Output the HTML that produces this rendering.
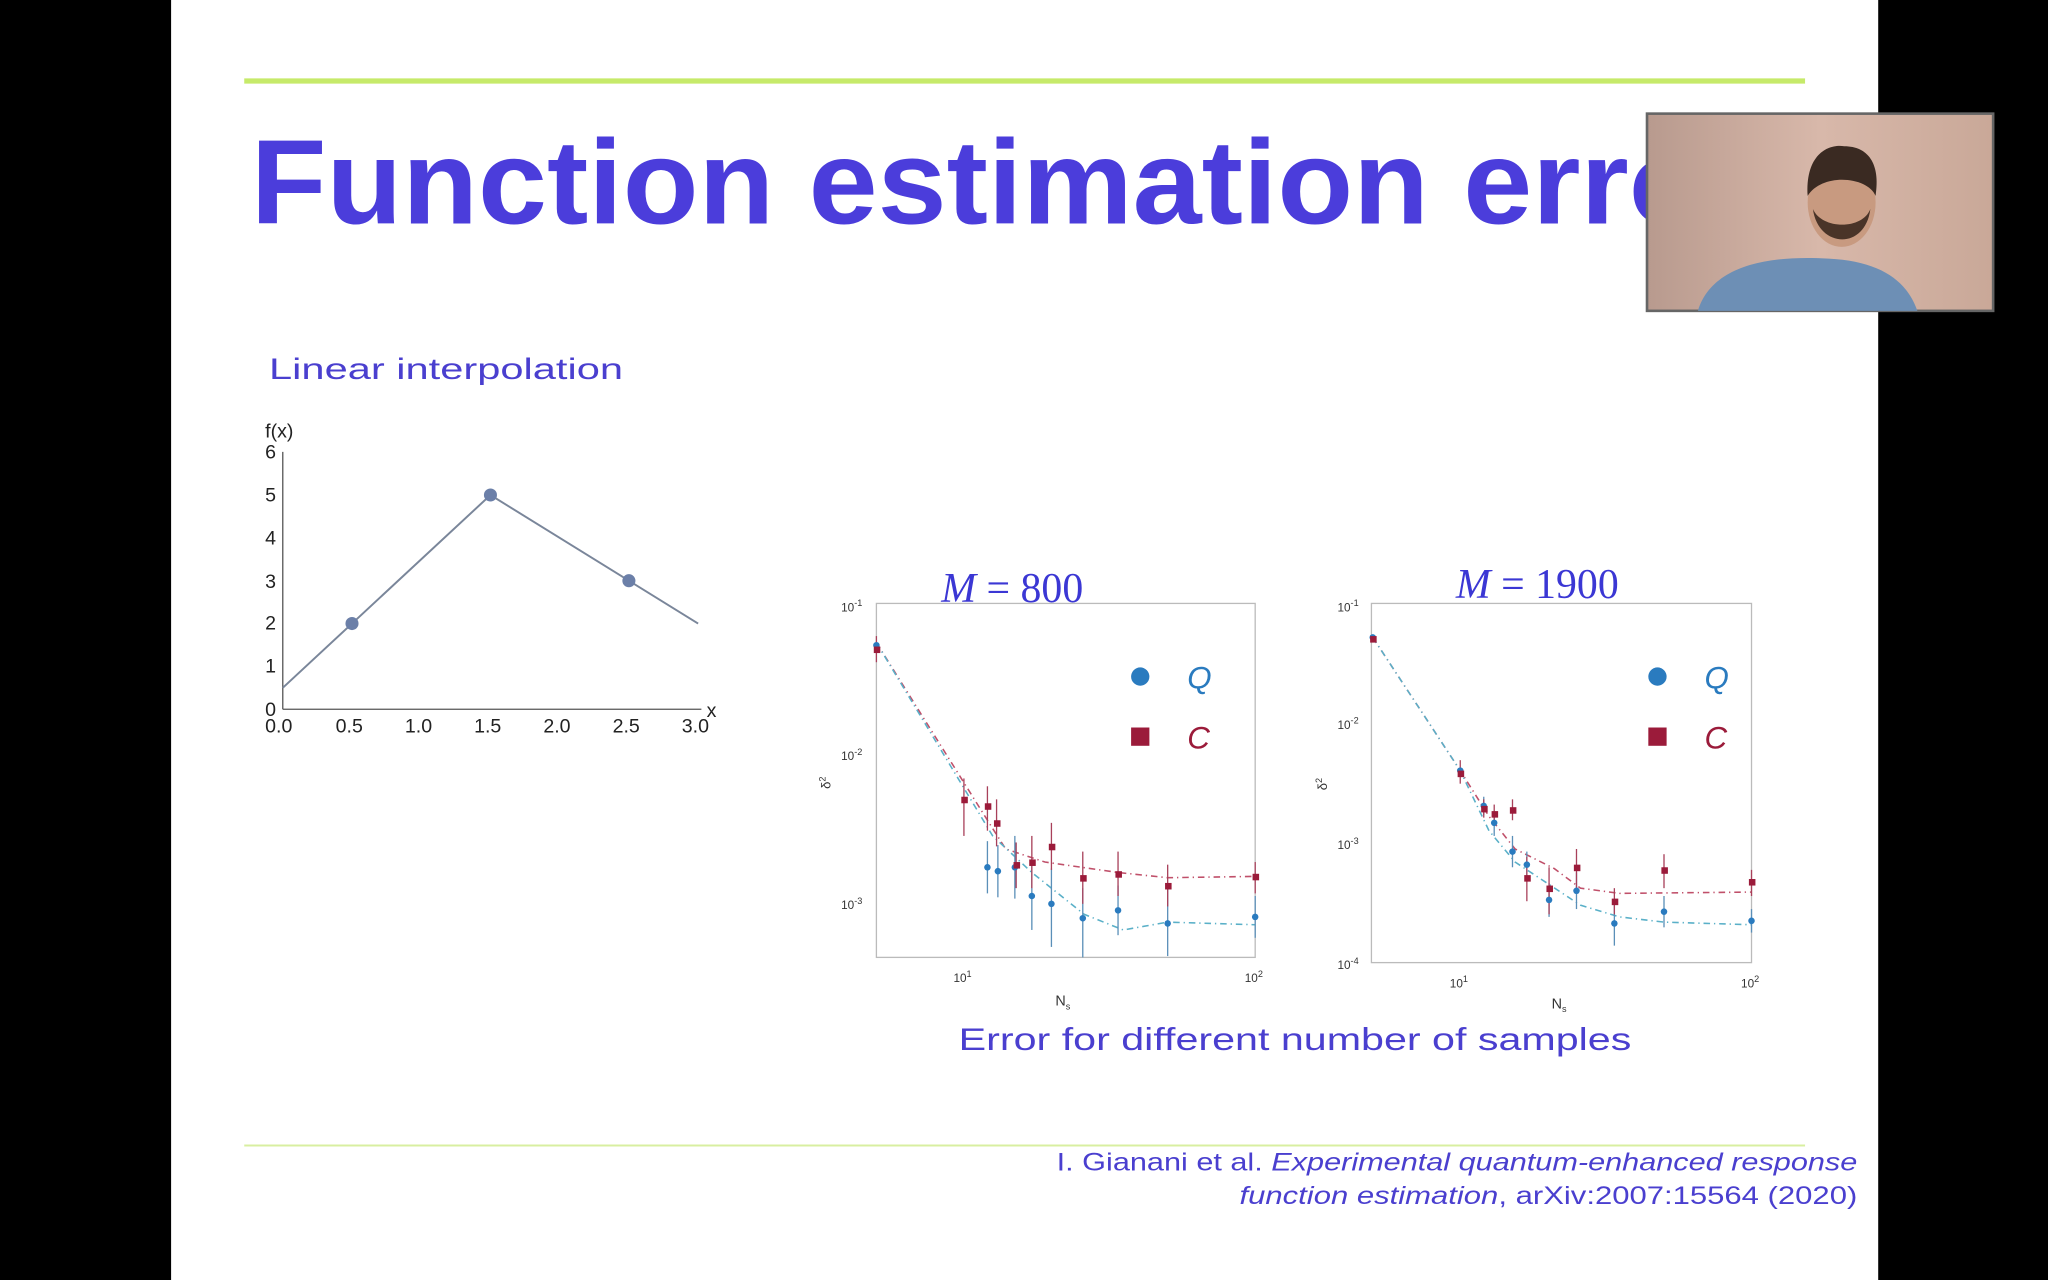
<!DOCTYPE html>
<html><head><meta charset="utf-8"><style>
html,body{margin:0;padding:0;background:#000;}
svg{display:block}
text{font-family:"Liberation Sans",sans-serif}
</style></head><body>
<svg width="2048" height="1280" viewBox="0 0 1568 980" xmlns="http://www.w3.org/2000/svg">
<rect x="0" y="0" width="1568" height="980" fill="#000"/>
<rect x="131" y="0" width="1307" height="980" fill="#fff"/>
<line x1="187" y1="62" x2="1382" y2="62" stroke="#c6ea6a" stroke-width="4"/>
<text x="192" y="171" font-size="92" font-weight="bold" fill="#4b3ddb" textLength="1150" lengthAdjust="spacingAndGlyphs">Function estimation error</text>
<text x="206" y="290" font-size="23" fill="#4a3fcf" textLength="271" lengthAdjust="spacingAndGlyphs">Linear interpolation</text>

<!-- left plot -->
<g stroke="#555" stroke-width="1" fill="none">
<line x1="216.5" y1="346" x2="216.5" y2="543"/>
<line x1="216.5" y1="543" x2="537" y2="543"/>
</g>
<g font-size="15" fill="#222">
<text x="203" y="335">f(x)</text>
<text x="203" y="351">6</text><text x="203" y="384">5</text><text x="203" y="417">4</text><text x="203" y="450">3</text><text x="203" y="482">2</text><text x="203" y="515">1</text><text x="203" y="548">0</text>
<text x="203" y="561">0.0</text><text x="257" y="561">0.5</text><text x="310" y="561">1.0</text><text x="363" y="561">1.5</text><text x="416" y="561">2.0</text><text x="469" y="561">2.5</text><text x="522" y="561">3.0</text>
<text x="541" y="549">x</text>
</g>
<polyline points="216.5,526.6 269.5,477.4 375.5,379 481.5,444.6 534.5,477.4" fill="none" stroke="#7a869a" stroke-width="1.5"/>
<g fill="#6b7fa8"><circle cx="269.5" cy="477.4" r="5"/><circle cx="375.5" cy="379" r="5"/><circle cx="481.5" cy="444.6" r="5"/></g>

<!-- plot 1 -->
<rect x="671" y="462" width="290" height="271" fill="none" stroke="#bbb" stroke-width="1"/>
<g font-size="9" fill="#333">
<text x="644" y="468">10<tspan dy="-4" font-size="7">-1</tspan></text>
<text x="644" y="582">10<tspan dy="-4" font-size="7">-2</tspan></text>
<text x="644" y="696">10<tspan dy="-4" font-size="7">-3</tspan></text>
<text x="730" y="752">10<tspan dy="-4" font-size="7">1</tspan></text>
<text x="953" y="752">10<tspan dy="-4" font-size="7">2</tspan></text>
<text x="808" y="770" font-size="11">N<tspan dy="3" font-size="7">s</tspan></text>
<text transform="translate(636,604) rotate(-90)" font-size="10">δ<tspan dy="-4" font-size="7">2</tspan></text>
</g>
<text x="775" y="461" text-anchor="middle" style="font-family:'Liberation Serif',serif" font-size="32" fill="#3b37d4"><tspan font-style="italic">M</tspan> = 800</text>
<polyline points="671,492 756,628 770,650 800,660 856,668 894,672 961,671" fill="none" stroke="#c0506a" stroke-width="1.2" stroke-dasharray="5,3,1,3"/>
<polyline points="671,492 760,640 790,668 830,700 860,712 894,706 961,708" fill="none" stroke="#5ab0c8" stroke-width="1.2" stroke-dasharray="5,3,1,3"/>
<g stroke="#5a8fb8" stroke-width="1">
<line x1="756" y1="644" x2="756" y2="684"/><line x1="764" y1="647" x2="764" y2="687"/><line x1="777" y1="640" x2="777" y2="688"/><line x1="790" y1="660" x2="790" y2="712"/><line x1="805" y1="665" x2="805" y2="725"/><line x1="829" y1="680" x2="829" y2="733"/><line x1="856" y1="678" x2="856" y2="716"/><line x1="894" y1="680" x2="894" y2="732"/><line x1="961" y1="686" x2="961" y2="718"/>
</g>
<g stroke="#a8405a" stroke-width="1">
<line x1="671" y1="487" x2="671" y2="507"/><line x1="738" y1="596" x2="738" y2="640"/><line x1="756" y1="602" x2="756" y2="636"/><line x1="763" y1="612" x2="763" y2="648"/><line x1="778" y1="645" x2="778" y2="680"/><line x1="790" y1="640" x2="790" y2="680"/><line x1="805" y1="630" x2="805" y2="666"/><line x1="829" y1="652" x2="829" y2="692"/><line x1="856" y1="652" x2="856" y2="686"/><line x1="894" y1="662" x2="894" y2="694"/><line x1="961" y1="660" x2="961" y2="684"/>
</g>
<g fill="#2a7bbf"><circle cx="671" cy="494" r="2.5"/><circle cx="756" cy="664" r="2.5"/><circle cx="764" cy="667" r="2.5"/><circle cx="777" cy="664" r="2.5"/><circle cx="790" cy="686" r="2.5"/><circle cx="805" cy="692" r="2.5"/><circle cx="829" cy="703" r="2.5"/><circle cx="856" cy="697" r="2.5"/><circle cx="894" cy="707" r="2.5"/><circle cx="961" cy="702" r="2.5"/></g>
<g fill="#9b1b3a"><rect x="669" y="495" width="5" height="5"/><rect x="736" y="610" width="5" height="5"/><rect x="754" y="615" width="5" height="5"/><rect x="761" y="628" width="5" height="5"/><rect x="776" y="660" width="5" height="5"/><rect x="788" y="658" width="5" height="5"/><rect x="803" y="646" width="5" height="5"/><rect x="827" y="670" width="5" height="5"/><rect x="854" y="667" width="5" height="5"/><rect x="892" y="676" width="5" height="5"/><rect x="959" y="669" width="5" height="5"/></g>
<circle cx="873" cy="518" r="7" fill="#2a7bbf"/><text x="909" y="527" font-size="24" font-style="italic" fill="#2a7bbf">Q</text>
<rect x="866" y="557" width="14" height="14" fill="#9b1b3a"/><text x="909" y="573" font-size="24" font-style="italic" fill="#9b1b3a">C</text>

<!-- plot 2 -->
<rect x="1050" y="462" width="291" height="275" fill="none" stroke="#bbb" stroke-width="1"/>
<g font-size="9" fill="#333">
<text x="1024" y="468">10<tspan dy="-4" font-size="7">-1</tspan></text>
<text x="1024" y="558">10<tspan dy="-4" font-size="7">-2</tspan></text>
<text x="1024" y="650">10<tspan dy="-4" font-size="7">-3</tspan></text>
<text x="1024" y="742">10<tspan dy="-4" font-size="7">-4</tspan></text>
<text x="1110" y="756">10<tspan dy="-4" font-size="7">1</tspan></text>
<text x="1333" y="756">10<tspan dy="-4" font-size="7">2</tspan></text>
<text x="1188" y="772" font-size="11">N<tspan dy="3" font-size="7">s</tspan></text>
<text transform="translate(1016,605) rotate(-90)" font-size="10">δ<tspan dy="-4" font-size="7">2</tspan></text>
</g>
<text x="1177" y="458" text-anchor="middle" style="font-family:'Liberation Serif',serif" font-size="32" fill="#3b37d4"><tspan font-style="italic">M</tspan> = 1900</text>
<polyline points="1051,488 1118,590 1140,625 1160,650 1190,665 1210,680 1240,684 1341,683" fill="none" stroke="#c0506a" stroke-width="1.2" stroke-dasharray="5,3,1,3"/>
<polyline points="1051,488 1118,590 1140,636 1160,660 1210,693 1240,702 1274,706 1341,708" fill="none" stroke="#5ab0c8" stroke-width="1.2" stroke-dasharray="5,3,1,3"/>
<g stroke="#5a8fb8" stroke-width="1">
<line x1="1136" y1="610" x2="1136" y2="624"/><line x1="1144" y1="622" x2="1144" y2="640"/><line x1="1158" y1="640" x2="1158" y2="664"/><line x1="1169" y1="652" x2="1169" y2="672"/><line x1="1186" y1="676" x2="1186" y2="702"/><line x1="1207" y1="668" x2="1207" y2="696"/><line x1="1236" y1="690" x2="1236" y2="724"/><line x1="1274" y1="686" x2="1274" y2="710"/><line x1="1341" y1="696" x2="1341" y2="714"/>
</g>
<g stroke="#a8405a" stroke-width="1">
<line x1="1118" y1="582" x2="1118" y2="600"/><line x1="1136" y1="612" x2="1136" y2="626"/><line x1="1144" y1="616" x2="1144" y2="630"/><line x1="1158" y1="612" x2="1158" y2="628"/><line x1="1169" y1="656" x2="1169" y2="690"/><line x1="1186" y1="664" x2="1186" y2="700"/><line x1="1207" y1="650" x2="1207" y2="680"/><line x1="1236" y1="680" x2="1236" y2="700"/><line x1="1274" y1="654" x2="1274" y2="680"/><line x1="1341" y1="666" x2="1341" y2="686"/>
</g>
<g fill="#2a7bbf"><circle cx="1051" cy="488" r="2.5"/><circle cx="1118" cy="590" r="2.5"/><circle cx="1136" cy="617" r="2.5"/><circle cx="1144" cy="630" r="2.5"/><circle cx="1158" cy="652" r="2.5"/><circle cx="1169" cy="662" r="2.5"/><circle cx="1186" cy="689" r="2.5"/><circle cx="1207" cy="682" r="2.5"/><circle cx="1236" cy="707" r="2.5"/><circle cx="1274" cy="698" r="2.5"/><circle cx="1341" cy="705" r="2.5"/></g>
<g fill="#9b1b3a"><rect x="1049" y="487" width="5" height="5"/><rect x="1116" y="590" width="5" height="5"/><rect x="1134" y="617" width="5" height="5"/><rect x="1142" y="621" width="5" height="5"/><rect x="1156" y="618" width="5" height="5"/><rect x="1167" y="670" width="5" height="5"/><rect x="1184" y="678" width="5" height="5"/><rect x="1205" y="662" width="5" height="5"/><rect x="1234" y="688" width="5" height="5"/><rect x="1272" y="664" width="5" height="5"/><rect x="1339" y="673" width="5" height="5"/></g>
<circle cx="1269" cy="518" r="7" fill="#2a7bbf"/><text x="1305" y="527" font-size="24" font-style="italic" fill="#2a7bbf">Q</text>
<rect x="1262" y="557" width="14" height="14" fill="#9b1b3a"/><text x="1305" y="573" font-size="24" font-style="italic" fill="#9b1b3a">C</text>

<text x="734" y="804" font-size="24" fill="#4a3fcf" textLength="515" lengthAdjust="spacingAndGlyphs">Error for different number of samples</text>
<line x1="187" y1="877" x2="1382" y2="877" stroke="#d8efa0" stroke-width="1.5"/>
<text x="809" y="896" font-size="19" fill="#4a3fcf" textLength="613" lengthAdjust="spacingAndGlyphs">I. Gianani et al. <tspan font-style="italic">Experimental quantum-enhanced response</tspan></text>
<text x="949" y="922" font-size="19" fill="#4a3fcf" textLength="473" lengthAdjust="spacingAndGlyphs"><tspan font-style="italic">function estimation</tspan>, arXiv:2007:15564 (2020)</text>

<!-- webcam -->
<defs><linearGradient id="wg" x1="0" y1="0" x2="1" y2="0"><stop offset="0" stop-color="#b89a8e"/><stop offset="0.5" stop-color="#d8b8aa"/><stop offset="1" stop-color="#c9a898"/></linearGradient></defs>
<rect x="1261" y="87" width="265" height="151" fill="url(#wg)" stroke="#666" stroke-width="2"/>
<path d="M1300,238 C1310,205 1350,195 1400,198 C1440,200 1460,215 1468,238 Z" fill="#6d8fb5"/>
<ellipse cx="1410" cy="155" rx="26" ry="34" fill="#c89a80"/>
<path d="M1384,150 C1382,118 1400,110 1412,112 C1430,112 1440,125 1436,150 C1430,135 1395,132 1384,150 Z" fill="#3a2a22"/>
<path d="M1388,160 C1392,190 1428,192 1432,160 C1426,176 1395,176 1388,160 Z" fill="#4a3428"/>
</svg>
</body></html>
